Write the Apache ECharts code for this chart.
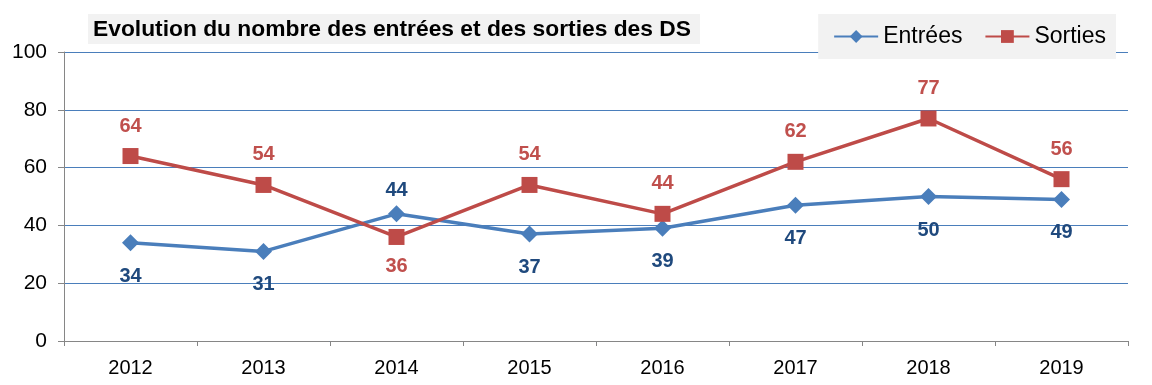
<!DOCTYPE html>
<html><head><meta charset="utf-8">
<script src="https://cdn.jsdelivr.net/npm/echarts@6/dist/echarts.min.js"></script>
<style>html,body{margin:0;padding:0;background:#fff}#c{width:1152px;height:385px}</style>
</head><body><div id="c"></div>
<script>
const categories = ['2012','2013','2014','2015','2016','2017','2018','2019'];
const entrees = [34,31,44,37,39,47,50,49];
const sorties = [64,54,36,54,44,62,77,56];
const entreesLabelPos = ['bottom','bottom','top','bottom','bottom','bottom','bottom','bottom'];
const sortiesLabelPos = ['top','top','bottom','top','top','top','top','top'];
const yTicks = [0,20,40,60,80,100];

const font = 'Liberation Sans, Arial, sans-serif';
const chart = echarts.init(document.getElementById('c'));
function mk(vals, pos, dTop, dBottom){
  return vals.map((v,i)=>({value:v,label:{position:pos[i],distance:pos[i]==='top'?dTop:dBottom}}));
}
chart.setOption({
  animation:false,
  title:{text:'Evolution du nombre des entrées et des sorties des DS',left:88,top:14,
    backgroundColor:'#f2f2f2',padding:[4,9,3,5],
    textStyle:{fontFamily:font,fontWeight:'bold',fontSize:22.8,color:'#000',lineHeight:23}},
  legend:{right:36,top:14,backgroundColor:'#f2f2f2',padding:[11,10,11,15],itemGap:22,
    itemWidth:44,itemHeight:16,
    textStyle:{fontFamily:font,fontSize:23,color:'#000',padding:[0,0,0,0]},
    data:['Entrées','Sorties']},
  grid:{left:64,right:24,top:52,bottom:44},
  xAxis:{type:'category',data:categories,boundaryGap:true,
    axisLine:{lineStyle:{color:'#868686'}},
    axisTick:{show:true,length:5,lineStyle:{color:'#868686'}},
    axisLabel:{fontFamily:font,fontSize:20,color:'#000',margin:17}},
  yAxis:{type:'value',min:0,max:100,interval:20,
    axisLine:{show:true,lineStyle:{color:'#868686'}},
    axisTick:{show:true,length:6,lineStyle:{color:'#868686'}},
    splitLine:{lineStyle:{color:'#4a7ebb',width:1}},
    axisLabel:{fontFamily:font,fontSize:21,color:'#000',margin:17,
      formatter:v=>yTicks.includes(v)?String(v):''}},
  series:[
    {name:'Entrées',type:'line',data:mk(entrees,entreesLabelPos,5,15),
      symbol:'diamond',symbolSize:17,
      lineStyle:{color:'#4a7ebb',width:3.5},itemStyle:{color:'#4a7ebb'},
      label:{show:true,fontFamily:font,fontWeight:'bold',fontSize:20,color:'#1f497d'}},
    {name:'Sorties',type:'line',data:mk(sorties,sortiesLabelPos,12,12),
      symbol:'rect',symbolSize:16,
      lineStyle:{color:'#be4b48',width:3.5},itemStyle:{color:'#be4b48'},
      label:{show:true,fontFamily:font,fontWeight:'bold',fontSize:20,color:'#c0504d'}}
  ]
});
</script></body></html>
